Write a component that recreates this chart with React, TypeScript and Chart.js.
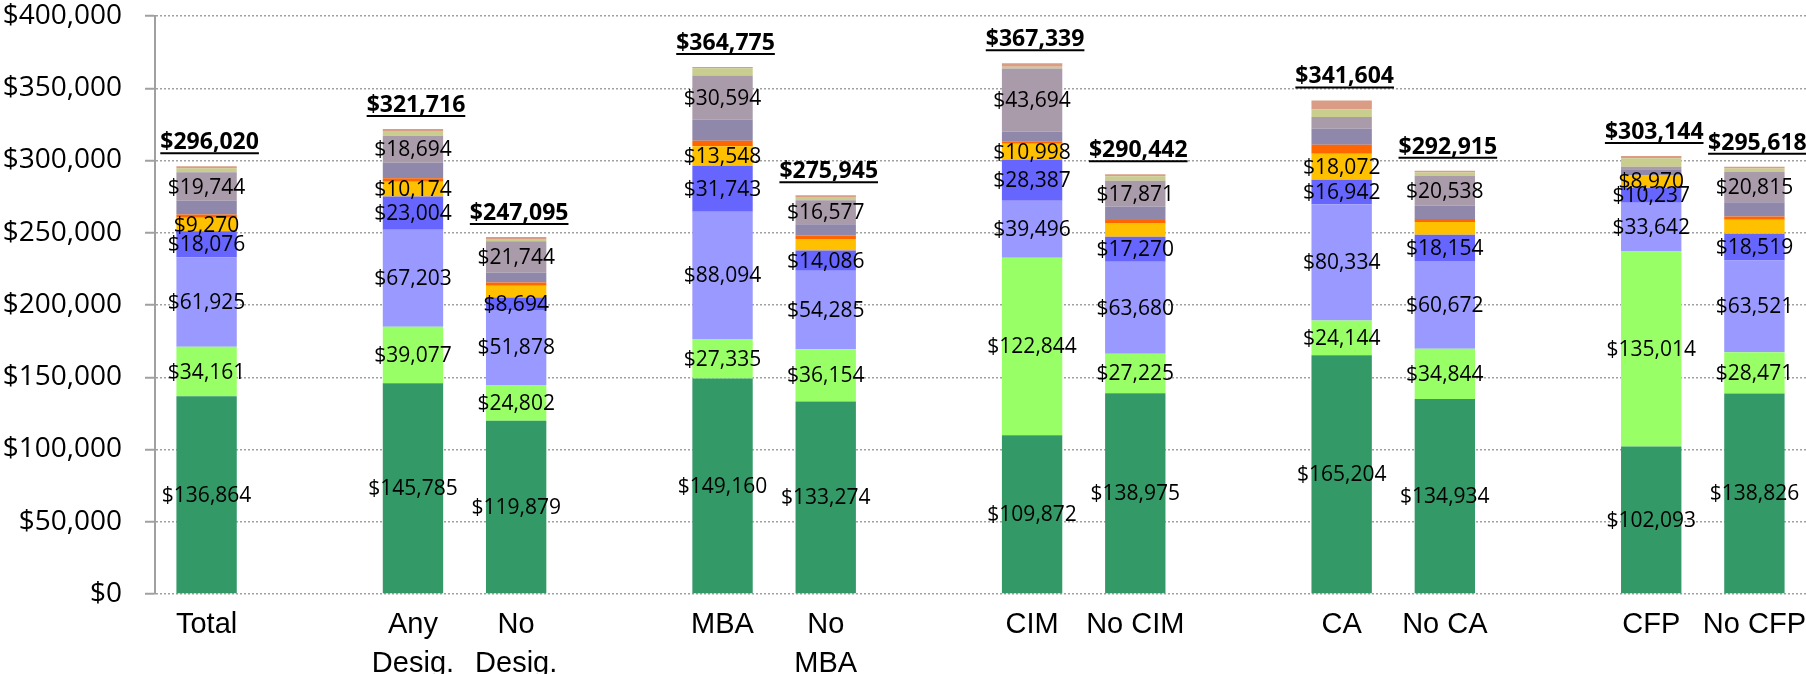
import React, { useEffect, useRef } from "react";
import { Chart, registerables } from "chart.js";

Chart.register(...registerables);

const N = null;

// 16 slots: bars with empty gap slots between groups
const categories: (string | string[])[] = [
  "Total", "", ["Any", "Desig."], ["No", "Desig."], "", "MBA", ["No", "MBA"], "",
  "CIM", "No CIM", "", "CA", "No CA", "", "CFP", "No CFP",
];

// stacked components, bottom to top
const comp1 = [136864, N, 145785, 119879, N, 149160, 133274, N, 109872, 138975, N, 165204, 134934, N, 102093, 138826];
const comp2 = [34161, N, 39077, 24802, N, 27335, 36154, N, 122844, 27225, N, 24144, 34844, N, 135014, 28471];
const comp3 = [61925, N, 67203, 51878, N, 88094, 54285, N, 39496, 63680, N, 80334, 60672, N, 33642, 63521];
const comp4 = [18076, N, 23004, 8694, N, 31743, 14086, N, 28387, 17270, N, 16942, 18154, N, 10237, 18519];
const comp5 = [9270, N, 10174, 8000, N, 13548, 7949, N, 10998, 9561, N, 18072, 8773, N, 8970, 9646];
const comp6 = [2300, N, 2500, 2300, N, 3851, 2270, N, 1318, 2100, N, 6238, 2080, N, 0, 2290];
const comp7 = [9500, N, 10720, 6800, N, 14440, 7950, N, 7000, 9330, N, 11070, 9230, N, 3928, 9870];
const comp8 = [19744, N, 18694, 21744, N, 30594, 16577, N, 43694, 17871, N, 8080, 20538, N, 1850, 20815];
const comp9 = [2800, N, 3190, 1600, N, 5050, 2270, N, 1320, 3030, N, 5290, 2540, N, 5790, 2520];
const comp10 = [1380, N, 1369, 1398, N, 960, 1130, N, 2410, 1400, N, 6230, 1150, N, 1620, 1140];

const totals = [296020, N, 321716, 247095, N, 364775, 275945, N, 367339, 290442, N, 341604, 292915, N, 303144, 295618];

const T = true, F = false;
const allShown = [T, F, T, T, F, T, T, F, T, T, F, T, T, F, T, T];
const comp5Shown = [T, F, T, F, F, T, F, F, T, F, F, T, F, F, T, F];
const comp8Shown = [T, F, T, T, F, T, T, F, T, T, F, F, T, F, F, T];
const noneShown = new Array(16).fill(false);

const yTicks = [0, 50000, 100000, 150000, 200000, 250000, 300000, 350000, 400000];

const seriesDefs = [
  { label: "Component 1", data: comp1, color: "#339966", shown: allShown },
  { label: "Component 2", data: comp2, color: "#99FF66", shown: allShown },
  { label: "Component 3", data: comp3, color: "#9999FF", shown: allShown },
  { label: "Component 4", data: comp4, color: "#6666FF", shown: allShown },
  { label: "Component 5", data: comp5, color: "#FFC000", shown: comp5Shown },
  { label: "Component 6", data: comp6, color: "#FF6600", shown: noneShown },
  { label: "Component 7", data: comp7, color: "#8F88AA", shown: noneShown },
  { label: "Component 8", data: comp8, color: "#A99BAA", shown: comp8Shown },
  { label: "Component 9", data: comp9, color: "#C9CD8E", shown: noneShown },
  { label: "Component 10", data: comp10, color: "#DA9C84", shown: noneShown },
];

const fmt = (v: number) => "$" + Math.round(v).toLocaleString("en-US");

const labelPlugin = {
  id: "segLabels",
  afterDatasetsDraw(chart: any) {
    const ctx = chart.ctx;
    ctx.save();
    ctx.fillStyle = "#000";
    ctx.textAlign = "center";
    ctx.textBaseline = "middle";
    ctx.font = "21px 'Open Sans'";
    seriesDefs.forEach((s, di) => {
      const meta = chart.getDatasetMeta(di);
      meta.data.forEach((el: any, i: number) => {
        const v = s.data[i];
        if (v == null || !s.shown[i]) return;
        const yMid = (el.y + el.base) / 2;
        ctx.fillText(fmt(v), el.x, yMid + 1);
      });
    });
    // totals, bold + underlined
    const xs = chart.scales.x;
    const ys = chart.scales.y;
    ctx.font = "bold 23px 'Open Sans'";
    ctx.textBaseline = "alphabetic";
    ctx.lineWidth = 2;
    ctx.strokeStyle = "#000";
    totals.forEach((t, i) => {
      if (t == null) return;
      const x = xs.getPixelForValue(i);
      const yTop = ys.getPixelForValue(t);
      const base = yTop - 17;
      const txt = fmt(t);
      const w = ctx.measureText(txt).width;
      ctx.fillText(txt, x + 3, base);
      ctx.beginPath();
      ctx.moveTo(x + 3 - w / 2, base + 4);
      ctx.lineTo(x + 3 + w / 2, base + 4);
      ctx.stroke();
    });
    ctx.restore();
  },
};

export default function App() {
  const ref = useRef<HTMLCanvasElement>(null);
  useEffect(() => {
    document.body.style.margin = "0";
    const canvas = ref.current!;
    const chart = new Chart(canvas, {
      type: "bar",
      data: {
        labels: categories as any,
        datasets: seriesDefs.map((s) => ({
          label: s.label,
          data: s.data as any,
          backgroundColor: s.color,
          borderWidth: 0,
          categoryPercentage: 1,
          barPercentage: 0.585,
        })),
      },
      options: {
        responsive: false,
        animation: false,
        layout: { padding: { top: 16, right: 0, left: 0, bottom: 0 } },
        plugins: {
          legend: { display: false },
          tooltip: { enabled: false },
        },
        scales: {
          x: {
            stacked: true,
            grid: { display: false, drawTicks: false },
            border: { display: false },
            ticks: {
              color: "#000",
              font: { family: "'Liberation Sans', Arial, sans-serif", size: 29, lineHeight: 1.35 },
              padding: 11,
              maxRotation: 0,
              autoSkip: false,
            },
            afterFit(scale: any) {
              scale.height = 80;
              scale.paddingLeft = 0;
              scale.paddingRight = 0;
            },
          },
          y: {
            stacked: true,
            min: 0,
            max: 400000,
            afterBuildTicks(scale: any) {
              scale.ticks = yTicks.map((v) => ({ value: v }));
            },
            grid: {
              color: "#A0A0A0",
              lineWidth: 1.5,
              drawTicks: true,
              tickLength: 10,
              tickColor: "#A0A0A0",
              tickWidth: 2,
              tickBorderDash: [],
            },
            border: { display: true, color: "#A0A0A0", width: 2, dash: [2, 2] },
            ticks: {
              color: "#000",
              font: { family: "'Open Sans'", size: 28, lineHeight: 1 },
              padding: 23,
              callback: (v: any) => fmt(Number(v)),
            },
            afterFit(scale: any) {
              scale.width = 155;
              scale.paddingTop = 0;
              scale.paddingBottom = 0;
            },
          },
        },
      },
      plugins: [labelPlugin],
    });
    return () => chart.destroy();
  }, []);
  return (
    <div style={{ width: 1806, height: 674 }}>
      <canvas ref={ref} width={1806} height={674} />
    </div>
  );
}
